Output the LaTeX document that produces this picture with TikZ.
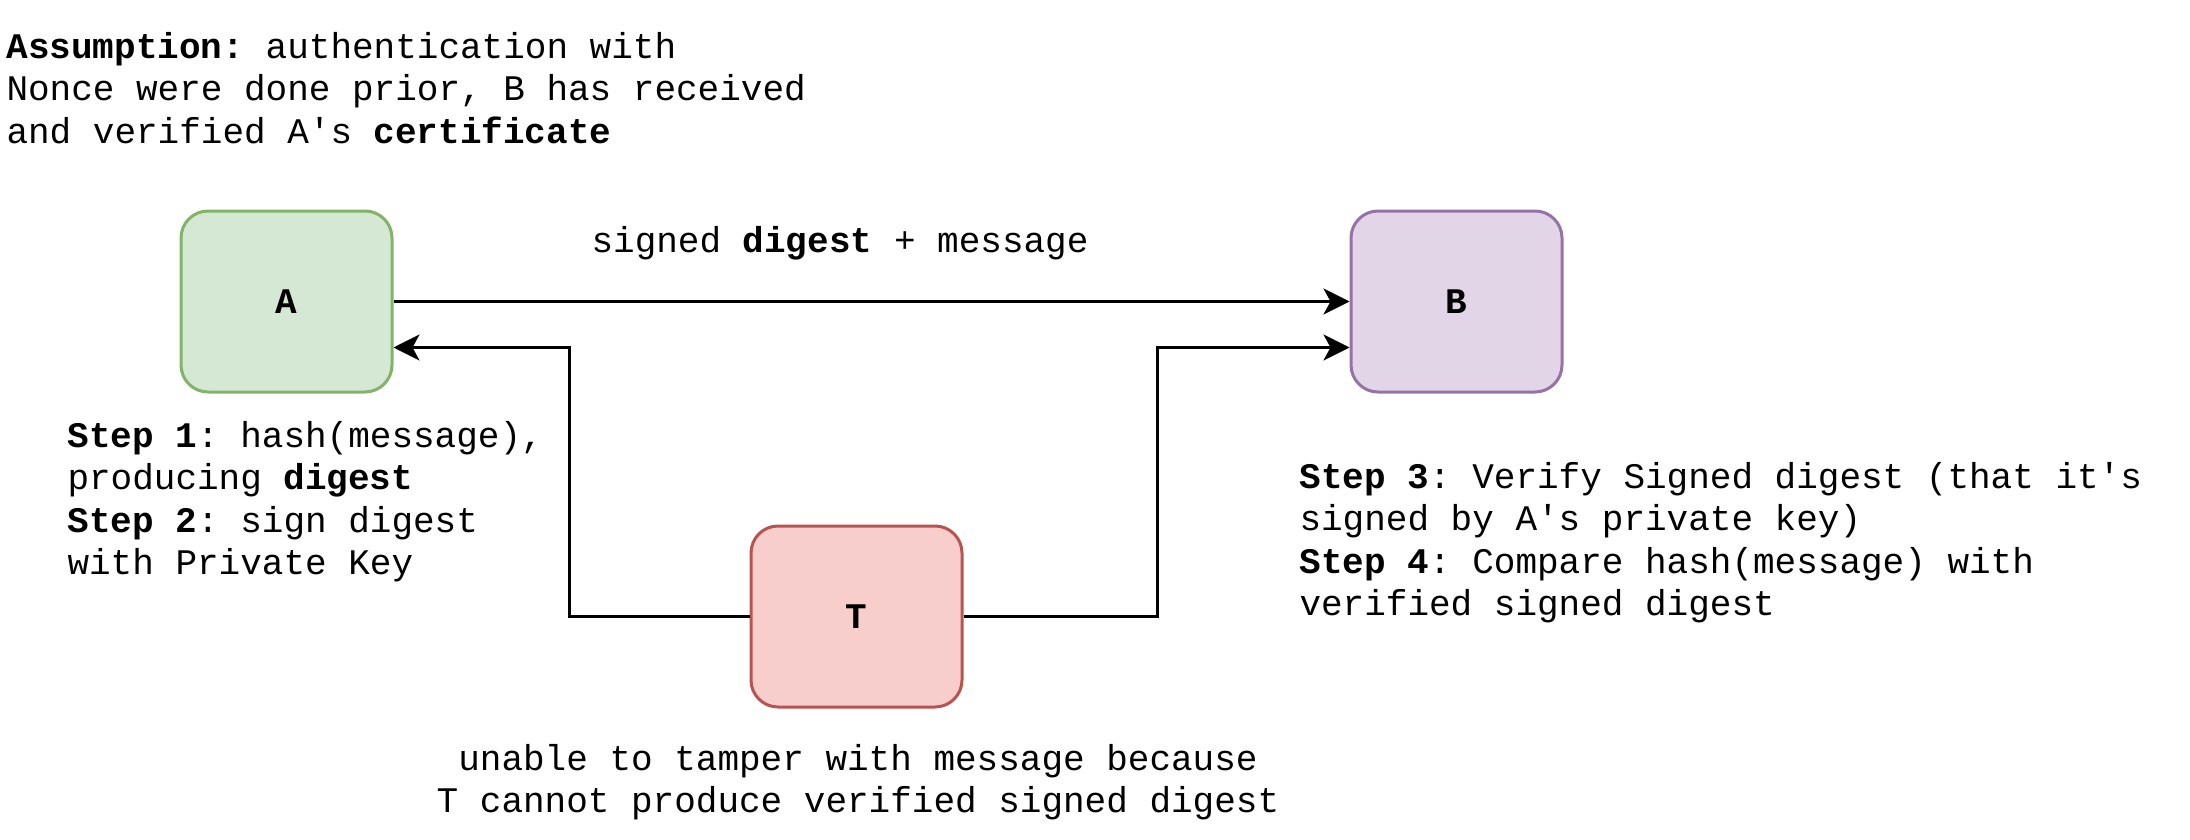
\documentclass[tikz,border=0pt]{standalone}
\usepackage{fontspec}
\setmainfont{Liberation Mono}[Ligatures=TeXOff]
\usetikzlibrary{arrows.meta,calc}
\definecolor{greenfill}{HTML}{D5E8D4}
\definecolor{greenline}{HTML}{82B366}
\definecolor{purplefill}{HTML}{E1D5E7}
\definecolor{purpleline}{HTML}{9673A6}
\definecolor{redfill}{HTML}{F8CECC}
\definecolor{redline}{HTML}{B85450}
\frenchspacing
\begin{document}
\begin{tikzpicture}[x=0.5pt, y=-0.5pt, line width=1.5pt, >={Stealth[length=13pt,width=13pt,inset=3.5pt]},
  party/.style={rectangle,draw,rounded corners=13.5pt,minimum width=105.5pt,minimum height=90.5pt,inner sep=0pt,font=\fontsize{18}{21.25}\selectfont\bfseries},
  note/.style={align=left,inner sep=0pt,anchor=base west,font=\fontsize{18}{21.25}\selectfont\frenchspacing}]
\useasboundingbox (0,0) rectangle (2190,840);
\node [party, fill=greenfill, draw=greenline](A) at (286.5,301.5) {A};
\node [party, fill=purplefill, draw=purpleline](B) at (1456.5,301.5) {B};
\node [party, fill=redfill, draw=redline](T) at (856.5,616.5) {T};
% base anchor sits on the last line
\node [note](assume) at (5,143) {\textbf{Assumption:} authentication with\\Nonce were done prior, B has received\\and verified A's \textbf{certificate}};
\node [note](step12) at (66,574.5) {\textbf{Step 1}: hash(message),\\producing \textbf{digest}\\\textbf{Step 2}: sign digest\\with Private Key};
\node [note](step34) at (1298,615.5) {\textbf{Step 3}: Verify Signed digest (that it's\\signed by A's private key)\\\textbf{Step 4}: Compare hash(message) with\\verified signed digest};
\node [note, anchor=base](msg) at (840,252) {signed \textbf{digest} + message};
\node [note, anchor=base, align=center](tamper) at (858,812.5) {unable to tamper with message because\\T cannot produce verified signed digest};
\draw [->] (A.east) -- (B.west);
\draw [->] (T.west) -- ++(-180,0) |- ($(A.east)!.5!(A.south east)$);
\draw [->] (T.east) -- ++(194,0) |- ($(B.west)!.5!(B.south west)$);
\end{tikzpicture}
\end{document}
